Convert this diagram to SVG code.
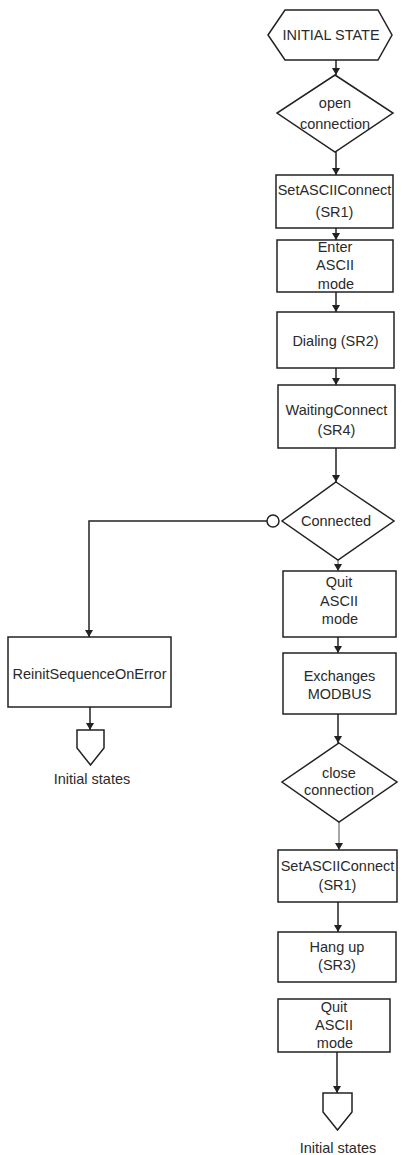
<svg xmlns="http://www.w3.org/2000/svg" width="402" height="1155" viewBox="0 0 402 1155">
<defs>
<style>
.s{fill:#fff;stroke:#222;stroke-width:1.5}
.t{font-family:"Liberation Sans",Arial,sans-serif;font-size:14.5px;fill:#2a2a2a;text-anchor:middle}
.c{fill:none;stroke:#222;stroke-width:1.5}
.g{fill:none;stroke:#888;stroke-width:1.5}
</style>
<marker id="ah" markerWidth="8" markerHeight="8" refX="7" refY="4" orient="auto" markerUnits="userSpaceOnUse">
<path d="M0,0 L7,4 L0,8 Z" fill="#222"/>
</marker>
</defs>
<rect width="402" height="1155" fill="#fff"/>
<g id="connectors">
<path class="c" d="M336,60 V75" marker-end="url(#ah)"/>
<path class="c" d="M336,152 V175" marker-end="url(#ah)"/>
<path class="c" d="M336,228 V240" marker-end="url(#ah)"/>
<path class="c" d="M336,292 V312" marker-end="url(#ah)"/>
<path class="c" d="M336,368 V385" marker-end="url(#ah)"/>
<path class="c" d="M336,448 V482" marker-end="url(#ah)"/>
<path class="c" d="M267,521 H89 V637" marker-end="url(#ah)"/>
<circle cx="273" cy="521" r="6" class="s"/>
<path class="g" d="M338,560 V571" marker-end="url(#ah)"/>
<path class="c" d="M338,637 V653" marker-end="url(#ah)"/>
<path class="c" d="M338,714 V743" marker-end="url(#ah)"/>
<path class="g" d="M339,822 V850" marker-end="url(#ah)"/>
<path class="c" d="M338,902 V932" marker-end="url(#ah)"/>
<path class="c" d="M337,1052 V1093" marker-end="url(#ah)"/>
<path class="c" d="M90,707 V730" marker-end="url(#ah)"/>
</g>
<g id="initial">
<polygon class="s" points="268,35 285,10 378,10 392,35 378,60 285,60"/>
<text class="t" x="331" y="40">INITIAL STATE</text>
</g>
<g id="open">
<polygon class="s" points="335,75 393,113 335,152 277,113"/>
<text class="t" x="335" y="108">open</text>
<text class="t" x="335" y="129">connection</text>
</g>
<g id="setascii1">
<rect class="s" x="276" y="175" width="117" height="53"/>
<text class="t" x="334.5" y="195">SetASCIIConnect</text>
<text class="t" x="334.5" y="217">(SR1)</text>
</g>
<g id="enterascii">
<rect class="s" x="277" y="240" width="116" height="52"/>
<text class="t" x="335" y="252">Enter</text>
<text class="t" x="335" y="270">ASCII</text>
<text class="t" x="336" y="289">mode</text>
</g>
<g id="dialing">
<rect class="s" x="277" y="312" width="117" height="56"/>
<text class="t" x="335.5" y="346">Dialing (SR2)</text>
</g>
<g id="waiting">
<rect class="s" x="278" y="385" width="117" height="63"/>
<text class="t" x="336.5" y="415">WaitingConnect</text>
<text class="t" x="336.5" y="435">(SR4)</text>
</g>
<g id="connected">
<polygon class="s" points="336,482 394,521 338,560 282,521"/>
<text class="t" x="336" y="526">Connected</text>
</g>
<g id="reinit">
<rect class="s" x="8" y="637" width="163" height="70"/>
<text class="t" x="89.5" y="679">ReinitSequenceOnError</text>
</g>
<g id="initial-left">
<polygon class="s" points="77,730 104,730 104,748 90.5,765 77,748"/>
<text class="t" x="92" y="784">Initial states</text>
</g>
<g id="quit1">
<rect class="s" x="283" y="571" width="113" height="66"/>
<text class="t" x="339" y="587">Quit</text>
<text class="t" x="339" y="606">ASCII</text>
<text class="t" x="340" y="624">mode</text>
</g>
<g id="exchanges">
<rect class="s" x="283" y="653" width="113" height="61"/>
<text class="t" x="339.5" y="681">Exchanges</text>
<text class="t" x="339.5" y="699">MODBUS</text>
</g>
<g id="close">
<polygon class="s" points="339,743 397,782 339,822 282,782"/>
<text class="t" x="339" y="778">close</text>
<text class="t" x="339" y="795">connection</text>
</g>
<g id="setascii2">
<rect class="s" x="278" y="850" width="119" height="52"/>
<text class="t" x="337.5" y="871">SetASCIIConnect</text>
<text class="t" x="337.5" y="890">(SR1)</text>
</g>
<g id="hangup">
<rect class="s" x="278" y="932" width="118" height="50"/>
<text class="t" x="337" y="952">Hang up</text>
<text class="t" x="337" y="970">(SR3)</text>
</g>
<g id="quit2">
<rect class="s" x="278" y="999" width="112" height="53"/>
<text class="t" x="334" y="1012">Quit</text>
<text class="t" x="334" y="1030">ASCII</text>
<text class="t" x="335" y="1048">mode</text>
</g>
<g id="initial-right">
<polygon class="s" points="323,1093 352,1093 352,1112 337.5,1130 323,1112"/>
<text class="t" x="338" y="1153">Initial states</text>
</g>
</svg>
